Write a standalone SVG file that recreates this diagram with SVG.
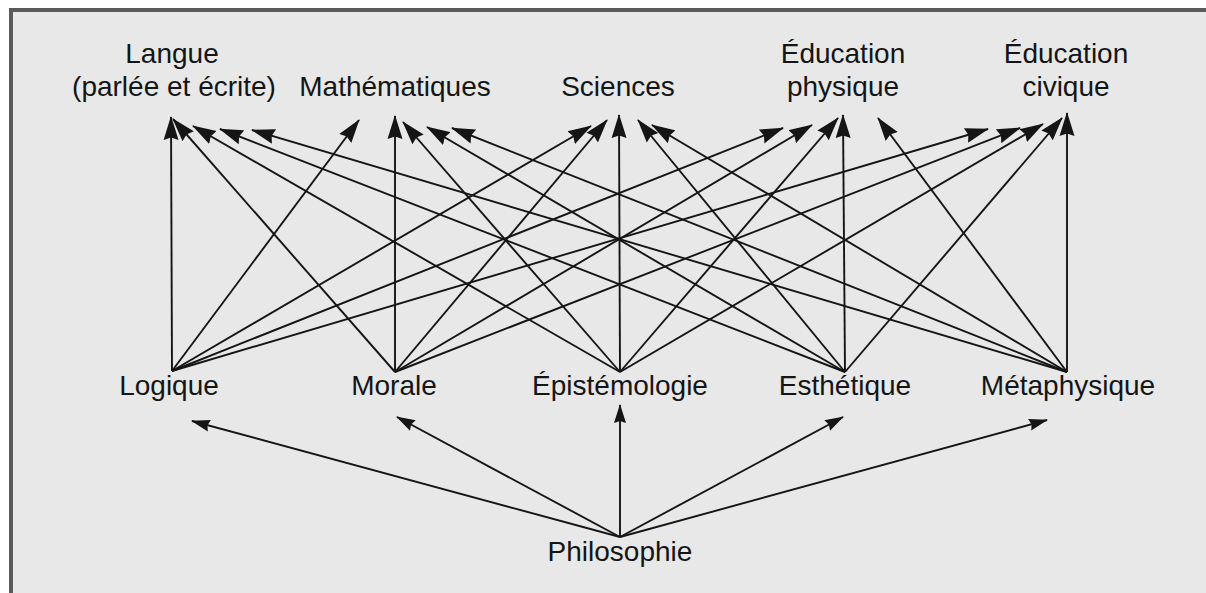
<svg xmlns="http://www.w3.org/2000/svg" width="1206" height="593" viewBox="0 0 1206 593">
  <style>
    .lbl { font-family: "Liberation Sans", Arial, sans-serif; font-size: 28px; fill: #151515; text-anchor: middle; }
    .edge { stroke: #151515; stroke-width: 1.9; fill: none; }
    .big { marker-end: url(#head); }
    .small { marker-end: url(#headS); }
  </style>
  <defs>
    <marker id="head" markerUnits="userSpaceOnUse" markerWidth="24" markerHeight="16" refX="23" refY="8" orient="auto">
      <path d="M0,0.5 L24,8 L0,15.5 L2.5,8 z" fill="#151515"/>
    </marker>
    <marker id="headS" markerUnits="userSpaceOnUse" markerWidth="19" markerHeight="13" refX="18" refY="6.5" orient="auto">
      <path d="M0,0.5 L19,6.5 L0,12.5 L2,6.5 z" fill="#151515"/>
    </marker>
  </defs>
  <rect x="0" y="0" width="1206" height="593" fill="#ffffff"/>
  <rect x="10" y="10" width="1196" height="583" fill="#e8e8e8"/>
  <path d="M11,593 L11,10 L1206,10" fill="none" stroke="#5a5a5a" stroke-width="4"/>

  <g id="connectors">
    <!-- Logique -->
    <line class="edge big" x1="172" y1="371" x2="171" y2="117"/>
    <line class="edge big" x1="172" y1="371" x2="359" y2="120"/>
    <line class="edge big" x1="172" y1="371" x2="591" y2="126"/>
    <line class="edge big" x1="172" y1="371" x2="783" y2="128"/>
    <line class="edge big" x1="172" y1="371" x2="988" y2="129"/>
    <!-- Morale -->
    <line class="edge big" x1="395" y1="372" x2="173" y2="119"/>
    <line class="edge big" x1="395" y1="372" x2="395" y2="116"/>
    <line class="edge big" x1="395" y1="372" x2="607" y2="120"/>
    <line class="edge big" x1="395" y1="372" x2="812" y2="125"/>
    <line class="edge big" x1="395" y1="372" x2="1020" y2="128"/>
    <!-- Epistemologie -->
    <line class="edge big" x1="620" y1="372" x2="193" y2="126"/>
    <line class="edge big" x1="620" y1="372" x2="403" y2="122"/>
    <line class="edge big" x1="620" y1="372" x2="619" y2="115"/>
    <line class="edge big" x1="620" y1="372" x2="838" y2="118"/>
    <line class="edge big" x1="620" y1="372" x2="1043" y2="124"/>
    <!-- Esthetique -->
    <line class="edge big" x1="845" y1="372" x2="220" y2="129"/>
    <line class="edge big" x1="845" y1="372" x2="427" y2="127"/>
    <line class="edge big" x1="845" y1="372" x2="638" y2="120"/>
    <line class="edge big" x1="845" y1="372" x2="843" y2="115"/>
    <line class="edge big" x1="845" y1="372" x2="1062" y2="118"/>
    <!-- Metaphysique -->
    <line class="edge big" x1="1067" y1="372" x2="252" y2="130"/>
    <line class="edge big" x1="1067" y1="372" x2="452" y2="128"/>
    <line class="edge big" x1="1067" y1="372" x2="652" y2="125"/>
    <line class="edge big" x1="1067" y1="372" x2="878" y2="118"/>
    <line class="edge big" x1="1067" y1="372" x2="1067" y2="113"/>
    <!-- Philosophie -->
    <line class="edge small" x1="620" y1="537" x2="192" y2="421"/>
    <line class="edge small" x1="620" y1="537" x2="397" y2="417"/>
    <line class="edge small" x1="620" y1="537" x2="620" y2="405"/>
    <line class="edge small" x1="620" y1="537" x2="843" y2="417"/>
    <line class="edge small" x1="620" y1="537" x2="1047" y2="420"/>
  </g>

  <g id="langue">
    <text class="lbl" x="172" y="63">Langue</text>
    <text class="lbl" x="174" y="96">(parlée et écrite)</text>
  </g>
  <g id="mathematiques"><text class="lbl" x="395" y="96">Mathématiques</text></g>
  <g id="sciences"><text class="lbl" x="618" y="96">Sciences</text></g>
  <g id="education-physique">
    <text class="lbl" x="843" y="63">Éducation</text>
    <text class="lbl" x="843" y="96">physique</text>
  </g>
  <g id="education-civique">
    <text class="lbl" x="1066" y="63">Éducation</text>
    <text class="lbl" x="1066" y="96">civique</text>
  </g>
  <g id="logique"><text class="lbl" x="169" y="395">Logique</text></g>
  <g id="morale"><text class="lbl" x="394" y="395">Morale</text></g>
  <g id="epistemologie"><text class="lbl" x="620" y="395">Épistémologie</text></g>
  <g id="esthetique"><text class="lbl" x="845" y="395">Esthétique</text></g>
  <g id="metaphysique"><text class="lbl" x="1068" y="395">Métaphysique</text></g>
  <g id="philosophie"><text class="lbl" x="620" y="561">Philosophie</text></g>
</svg>
